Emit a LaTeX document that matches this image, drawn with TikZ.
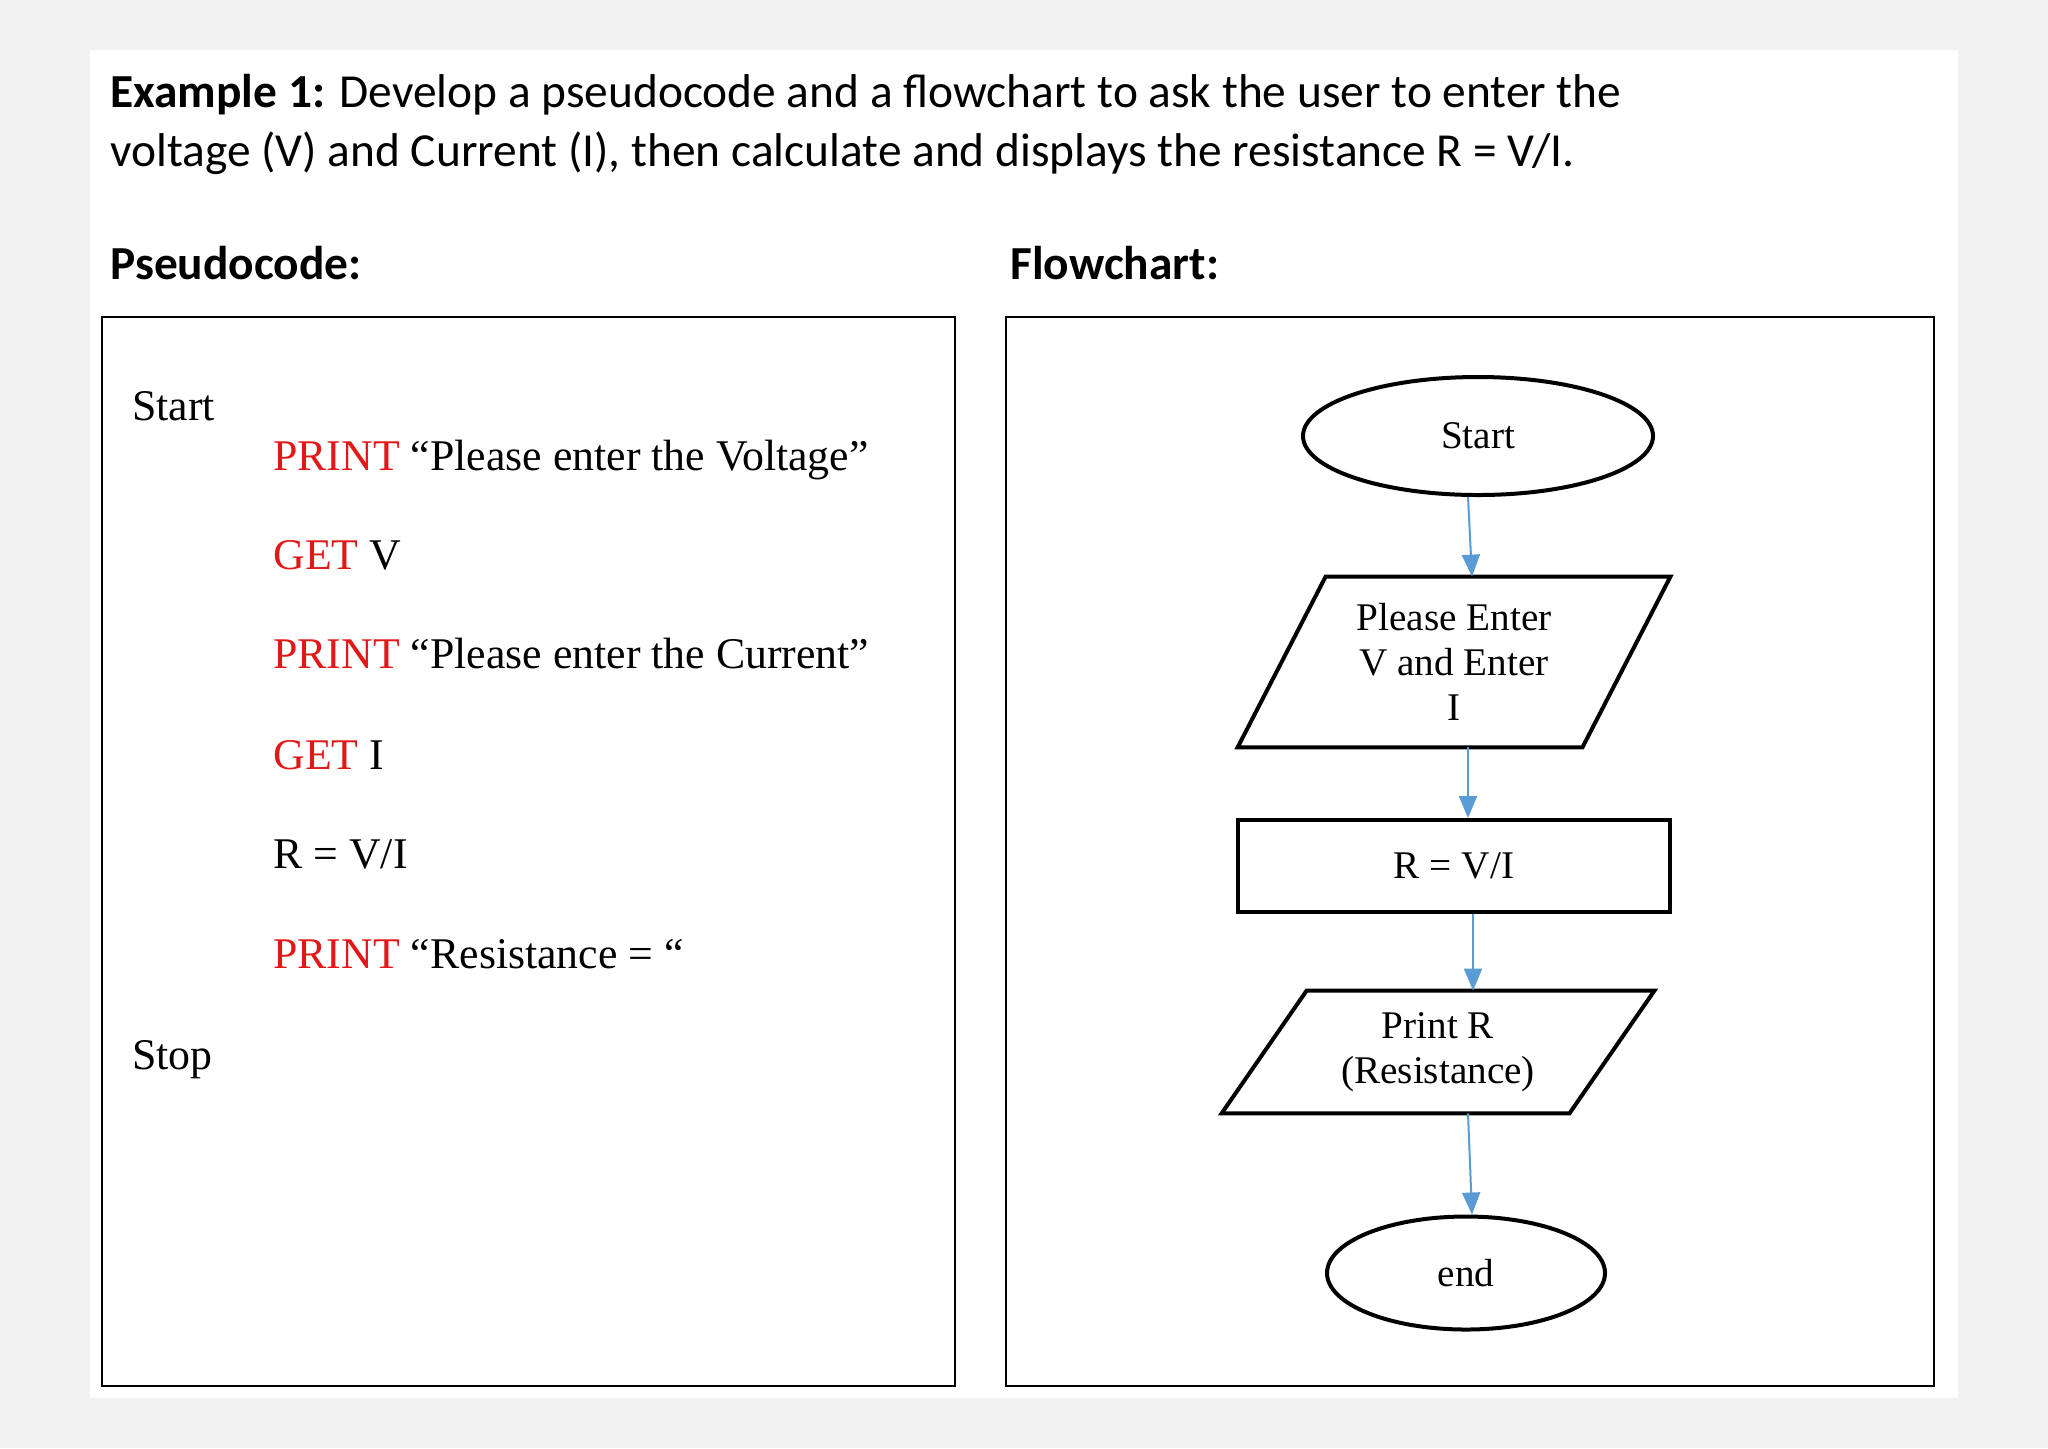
\documentclass[tikz,border=0pt]{standalone}
\usepackage{fontspec}
\setmainfont{Liberation Serif}
\newfontfamily\carlito{Carlito}
\usetikzlibrary{shapes.geometric,arrows.meta,calc}
\definecolor{bggray}{RGB}{242,242,242}
\definecolor{kwred}{RGB}{226,24,24}
\definecolor{arrowblue}{RGB}{91,155,213}
\begin{document}
\begin{tikzpicture}[x=0.5pt,y=-0.5pt,
  panelbox/.style={draw=black, line width=1.3pt},
  shapeline/.style={draw=black, line width=2pt, line join=miter},
  titletext/.style={anchor=base west, inner sep=0pt, font=\carlito\fontsize{23.7}{29.5}\selectfont},
  codetext/.style={anchor=base west, inner sep=0pt, font=\fontsize{21.9}{26}\selectfont},
  flowtext/.style={inner sep=0pt, align=center, font=\fontsize{19.6}{22.5}\selectfont},
  flowarrow/.style={draw=arrowblue, line width=1pt, -{Triangle[length=11pt,width=9pt]}},
  kw/.style={text=kwred}
]
\fill[bggray] (0,0) rectangle (2048,1448);
\useasboundingbox (0,0) rectangle (2048,1448);
\fill[white] (90,50) rectangle (1958,1398);
\draw[panelbox] (102,317) rectangle (955,1386);
\draw[panelbox] (1006,317) rectangle (1934,1386);

% title
\node[titletext] (t1) at (110,107) {\textbf{Example 1:} Develop a pseudocode and a flowchart to ask the user to enter the};
\node[titletext] (t2) at (110,166) {voltage (V) and Current (I), then calculate and displays the resistance R = V/I.};
\node[titletext] (h1) at (110,279) {\textbf{Pseudocode:}};
\node[titletext] (h2) at (1010,279) {\textbf{Flowchart:}};

% pseudocode
\node[codetext] (c0) at (132,420) {Start};
\node[codetext] (c1) at (273,470) {\textcolor{kwred}{PRINT} “Please enter the Voltage”};
\node[codetext] (c2) at (273,569) {\textcolor{kwred}{GET} V};
\node[codetext] (c3) at (273,668) {\textcolor{kwred}{PRINT} “Please enter the Current”};
\node[codetext] (c4) at (273,769) {\textcolor{kwred}{GET} I};
\node[codetext] (c5) at (273,868) {R = V/I};
\node[codetext] (c6) at (273,968) {\textcolor{kwred}{PRINT} “Resistance = “};
\node[codetext] (c7) at (132,1069) {Stop};

% flowchart
\node[ellipse, shapeline, minimum width=175pt, minimum height=59pt, flowtext] (start) at (1478,436) {\raisebox{-1.5pt}{Start}};

\node[flowtext, minimum width=216pt, minimum height=85pt] (p1) at (1454,662) {Please Enter\\V and Enter\\I};
\draw[shapeline] ($(p1.north west)+(88,0)$) -- (p1.north east) -- ($(p1.south east)+(-88,0)$) -- (p1.south west) -- cycle;

\node[flowtext, shapeline, minimum width=216pt, minimum height=46pt] (calc) at (1454,866) {\raisebox{-1.5pt}{R = V/I}};

\node[flowtext, minimum width=216pt, minimum height=61pt] (p2) at (1438,1052) {Print R\\(Resistance)};
\draw[shapeline] ($(p2.north west)+(85,0)$) -- (p2.north east) -- ($(p2.south east)+(-85,0)$) -- (p2.south west) -- cycle;

\node[ellipse, shapeline, minimum width=139pt, minimum height=56.5pt, flowtext] (stop) at (1466,1273) {\raisebox{-1.5pt}{end}};

% connectors
\draw[flowarrow] ($(start.south)+(-10,0)$) -- ($(p1.north)+(18,0)$);
\draw[flowarrow] ($(p1.south)+(14,0)$) -- ($(calc.north)+(14,0)$);
\draw[flowarrow] ($(calc.south)+(19,0)$) -- ($(p2.north)+(35,0)$);
\draw[flowarrow] ($(p2.south)+(30,0)$) -- ($(stop.north)+(6,0)$);
\end{tikzpicture}
\end{document}
